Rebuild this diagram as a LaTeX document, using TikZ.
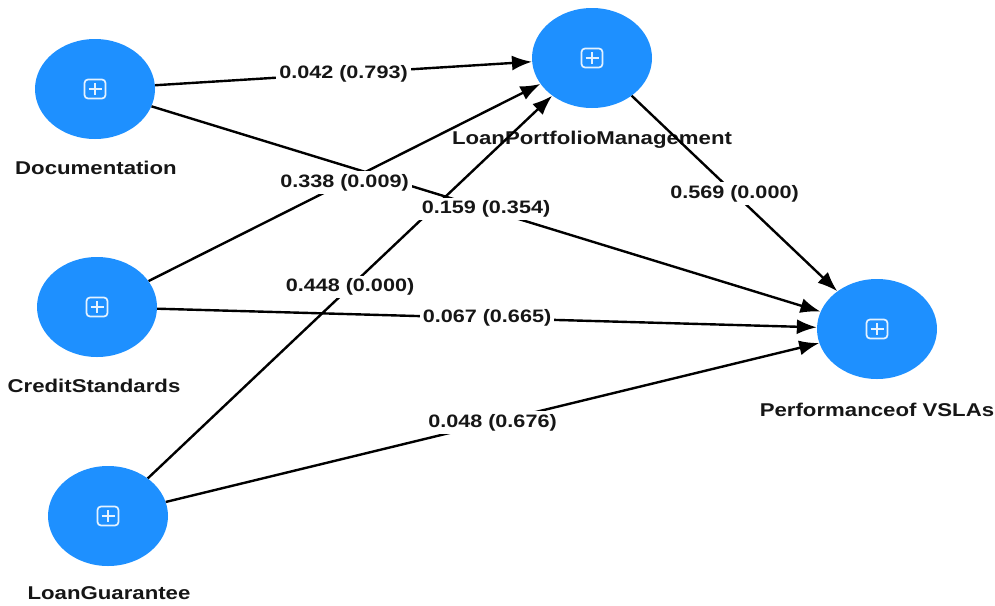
\documentclass[tikz,border=0pt]{standalone}
\usepackage{fontspec}
\setmainfont{Liberation Sans}[FakeStretch=1.2]
\usetikzlibrary{shapes.geometric,arrows.meta,calc}
\definecolor{lvblue}{RGB}{30,144,255}
\definecolor{inkgray}{RGB}{22,22,22}
\begin{document}
\begin{tikzpicture}[x=1pt,y=-1pt,
  latent/.style={ellipse, fill=lvblue, minimum width=120pt, minimum height=100pt, inner sep=0pt},
  varname/.style={font=\bfseries\fontsize{18.5}{20}\selectfont, text=inkgray, inner sep=0pt},
  link/.style={draw=black, line width=2.4pt, -{Latex[length=20pt,width=15pt]}},
  coef/.style={font=\bfseries\fontsize{18}{20}\selectfont, text=inkgray, fill=white, inner sep=3pt},
  iconline/.style={draw=white!88!lvblue, line width=1.7pt},
  plusicon/.pic={
    \draw[iconline, rounded corners=3.5pt] (-10.5,-9.5) rectangle (10.5,9.5);
    \draw[iconline] (-6.5,0) -- (6.5,0) (0,-6) -- (0,6);
  }]
\useasboundingbox (0,0) rectangle (995,605);

% latent variables
\node[latent] (doc)  at (95,89)  {};
\node[latent] (lpm)  at (592,58) {};
\node[latent] (cs)   at (97,307) {};
\node[latent] (lg)   at (108,516) {};
\node[latent] (perf) at (877,329) {};

% variable names
\node[varname] (docL)  at (96,168)  {Documentation};
\node[varname] (lpmL)  at (592,140) {LoanPortfolioManagement};
\node[varname] (csL)   at (94,386)  {CreditStandards};
\node[varname] (lgL)   at (109,593) {LoanGuarantee};
\node[varname] (perfL) at (877,410) {Performanceof VSLAs};

% structural paths
\draw[link] (doc) -- (lpm);
\draw[link] (doc) -- (perf);
\draw[link] (cs)  -- (lpm);
\draw[link] (cs)  -- (perf);
\draw[link] (lg)  -- (lpm);
\draw[link] (lg)  -- (perf);
\draw[link] (lpm) -- (perf);

% path coefficients (p-values)
\node[coef] (c1) at ($(doc)!0.5!(lpm)$)  {0.042 (0.793)};
\node[coef] (c2) at ($(doc)!0.5!(perf)$) {0.159 (0.354)};
\node[coef] (c3) at ($(cs)!0.5!(lpm)$)   {0.338 (0.009)};
\node[coef] (c4) at ($(cs)!0.5!(perf)$)  {0.067 (0.665)};
\node[coef] (c5) at ($(lg)!0.5!(lpm)$)   {0.448 (0.000)};
\node[coef] (c6) at ($(lg)!0.5!(perf)$)  {0.048 (0.676)};
\node[coef] (c7) at ($(lpm)!0.5!(perf)$) {0.569 (0.000)};

% expand icons
\foreach \n in {doc,lpm,cs,lg,perf}
  \pic at (\n) {plusicon};
\end{tikzpicture}
\end{document}
